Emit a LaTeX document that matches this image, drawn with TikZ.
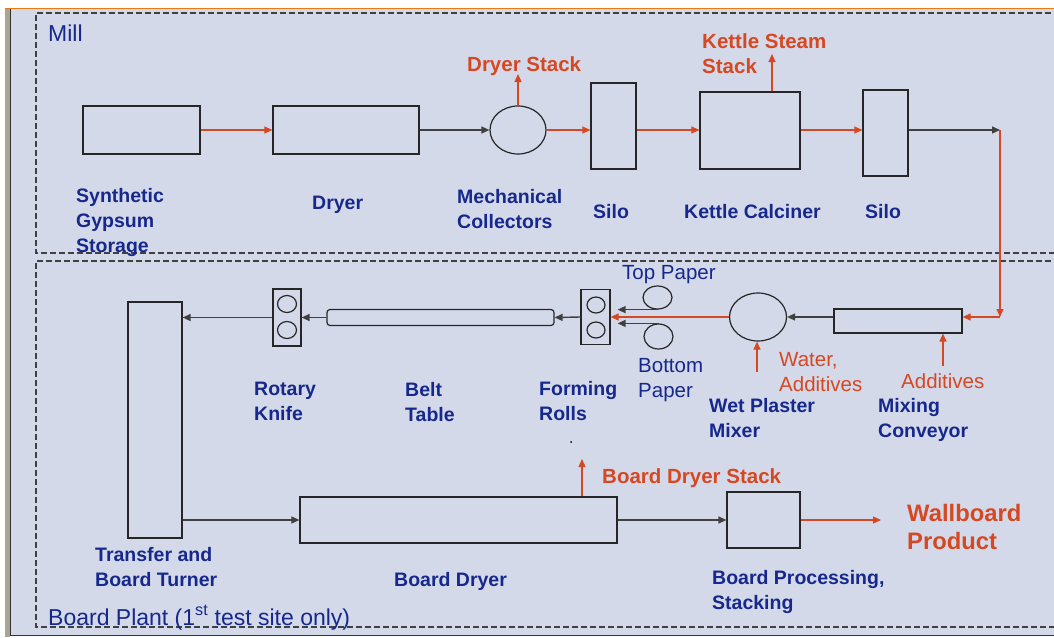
\documentclass[tikz,border=0pt]{standalone}
\usepackage{fontspec}
\setmainfont{Liberation Sans}
\usetikzlibrary{arrows.meta,shapes.geometric}
\definecolor{bgc}{RGB}{212,217,234}
\definecolor{navy}{RGB}{22,40,140}
\definecolor{rd}{RGB}{214,72,34}
\definecolor{orng}{RGB}{232,122,20}
\definecolor{gstrip}{RGB}{168,165,150}
\tikzset{
  box/.style={draw=black!85, line width=1.2pt, inner sep=0pt, fill=none},
  oval/.style={ellipse, draw=black!85, line width=1.2pt, inner sep=0pt},
  rarr/.style={draw=rd, line width=1.2pt, -{Triangle[length=8pt,width=7pt]}},
  barr/.style={draw=black!75, line width=1.4pt, -{Triangle[length=8pt,width=7pt]}},
  zone/.style={draw=black!75, line width=1.1pt, dash pattern=on 6pt off 3pt},
  lbl/.style={anchor=north west, inner sep=0pt, align=left, text=navy, font=\fontsize{19.5}{25}\selectfont\bfseries},
  rlbl/.style={anchor=north west, inner sep=0pt, align=left, text=rd, font=\fontsize{20.5}{25}\selectfont\bfseries},
  nlbl/.style={anchor=north west, inner sep=0pt, align=left, text=navy, font=\fontsize{20.5}{25}\selectfont},
  rnlbl/.style={anchor=north west, inner sep=0pt, align=left, text=rd, font=\fontsize{20.5}{25}\selectfont},
}
\begin{document}
\begin{tikzpicture}[x=1pt,y=-1pt]
\useasboundingbox (0,0) rectangle (1054,637);
% frame and background
\fill[white] (0,0) rectangle (1054,637);
\fill[bgc] (11,9) rectangle (1054,635);
\fill[gstrip] (5,9) rectangle (10,637);
\draw[black!80, line width=1.2pt] (10.5,9) -- (10.5,635.5) -- (1054,635.5);
\draw[orng, line width=1.6pt] (5,8.5) -- (1054,8.5);
% zones
\draw[zone] (1060,13) -- (36,13) -- (36,253) -- (1060,253);
\draw[zone] (1060,261) -- (36,261) -- (36,627) -- (1060,627);
\node[nlbl, font=\fontsize{23}{28}\selectfont] (mill) at (48,25) {Mill};
\node[nlbl, anchor=base west, font=\fontsize{23}{28}\selectfont] (bplant) at (48,625) {Board Plant (1\textsuperscript{st} test site only)};

% ---- Mill row ----
\node[box, minimum width=117pt, minimum height=48pt] (sgs) at (141.5,130) {};
\node[box, minimum width=146pt, minimum height=48pt] (dryer) at (346,130) {};
\node[oval, minimum width=56pt, minimum height=48pt] (mc) at (518,130) {};
\node[box, minimum width=45pt, minimum height=86pt] (silo1) at (613.5,126) {};
\node[box, minimum width=100pt, minimum height=77pt] (kettle) at (750,130.5) {};
\node[box, minimum width=45pt, minimum height=86pt] (silo2) at (885.5,133) {};
\coordinate (c1) at (1000,130);
\coordinate (c2) at (1000,317);
\coordinate (ds) at (518,74);
\coordinate (ks) at (772,54);

\draw[rarr] (sgs.east) -- (dryer.west);
\draw[barr] (dryer.east) -- (mc.west);
\draw[rarr] (mc.east) -- (silo1.west |- mc.east);
\draw[rarr] (silo1.east |- mc.east) -- (kettle.west |- mc.east);
\draw[rarr] (kettle.east |- mc.east) -- (silo2.west |- mc.east);
\draw[barr] (silo2.east |- mc.east) -- (c1);
\draw[rarr] (c1) -- (c2);
\draw[rarr] (mc.north) -- (ds);
\draw[rarr] (kettle.north -| ks) -- (ks);

\node[lbl] (l-sgs) at (76,188) {Synthetic\\Gypsum\\Storage};
\node[lbl] (l-dryer) at (312,196) {Dryer};
\node[lbl] (l-mc) at (457,189) {Mechanical\\Collectors};
\node[lbl] (l-silo1) at (593,204) {Silo};
\node[lbl] (l-kettle) at (684,204) {Kettle Calciner};
\node[lbl] (l-silo2) at (865,204) {Silo};
\node[rlbl] (l-ds) at (467,56) {Dryer Stack};
\node[rlbl] (l-ks) at (702,33) {Kettle Steam\\Stack};

% ---- Board plant ----
\node[box, minimum width=128pt, minimum height=24pt] (conv) at (898,321) {};
\node[oval, minimum width=57pt, minimum height=48pt] (mixer) at (758,317) {};
\node[box, minimum width=29pt, minimum height=55pt] (fr) at (595.5,317) {};
\node[oval, minimum width=18pt, minimum height=16pt] (fr1) at (596,305) {};
\node[oval, minimum width=18pt, minimum height=16pt] (fr2) at (596,330) {};
\node[oval, minimum width=29pt, minimum height=23pt] (tr) at (657.5,297.5) {};
\node[oval, minimum width=29pt, minimum height=25pt] (br) at (658.5,336.5) {};
\node[box, rounded corners=3pt, minimum width=227pt, minimum height=16pt] (belt) at (440.5,317.5) {};
\node[box, minimum width=28pt, minimum height=57pt] (rk) at (287,317.5) {};
\node[oval, minimum width=19pt, minimum height=17pt] (rk1) at (287,304) {};
\node[oval, minimum width=19pt, minimum height=17pt] (rk2) at (287,330) {};
\node[box, minimum width=54pt, minimum height=236pt] (transfer) at (155,420) {};
\node[box, minimum width=317pt, minimum height=46pt] (bdryer) at (458.5,520) {};
\node[box, minimum width=73pt, minimum height=56pt] (proc) at (763.5,520) {};
\coordinate (wp) at (881,520);
\coordinate (add) at (943,366);
\coordinate (wat) at (757,372);
\coordinate (bds) at (582,459);
\node[circle, fill=black, inner sep=0pt, minimum size=2pt] (dot) at (571,442) {};

\draw[rarr] (c2) -- (conv.east |- c2);
\draw[rarr] (add) -- (add |- conv.south);
\draw[barr] (conv.west |- mixer.east) -- (mixer.east);
\draw[rarr] (wat) -- (wat |- mixer.south);
\draw[rarr] (mixer.west) -- (fr.east);
\draw[barr, shorten >=7pt] (tr.south) -- (tr.south -| fr.east);
\draw[barr, shorten >=7pt] (br.north) -- (br.north -| fr.east);
\draw[barr] (fr.west) -- (belt.east);
\draw[barr] (belt.west) -- (rk.east);
\draw[barr] (rk.west) -- (rk.west -| transfer.east);
\draw[barr] (transfer.east |- bdryer.west) -- (bdryer.west);
\draw[barr] (bdryer.east) -- (proc.west);
\draw[rarr] (proc.east) -- (wp);
\draw[rarr] (bds |- bdryer.north) -- (bds);

\node[nlbl] (l-top) at (622,265) {Top Paper};
\node[nlbl] (l-bot) at (638,358) {Bottom\\Paper};
\node[rnlbl] (l-wat) at (779,352) {Water,\\Additives};
\node[rnlbl] (l-add) at (901,373) {Additives};
\node[lbl] (l-mix) at (709,398) {Wet Plaster\\Mixer};
\node[lbl] (l-conv) at (878,398) {Mixing\\Conveyor};
\node[lbl] (l-fr) at (539,381) {Forming\\Rolls};
\node[lbl] (l-belt) at (405,382) {Belt\\Table};
\node[lbl] (l-rk) at (254,382) {Rotary\\Knife};
\node[lbl] (l-tr) at (95,547) {Transfer and\\Board Turner};
\node[lbl] (l-bd) at (394,572) {Board Dryer};
\node[lbl] (l-proc) at (712,570) {Board Processing,\\Stacking};
\node[rlbl] (l-bds) at (602,468) {Board Dryer Stack};
\node[rlbl, font=\fontsize{23.8}{28}\selectfont\bfseries] (l-wp) at (907,504) {Wallboard\\Product};
\end{tikzpicture}
\end{document}
